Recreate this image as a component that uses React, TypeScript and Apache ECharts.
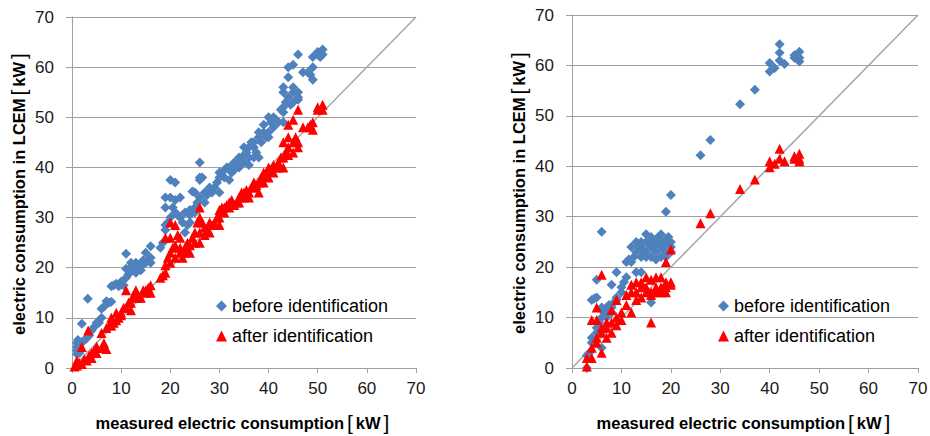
import React, { useEffect, useRef } from "react";
import * as echarts from "echarts";

const axisTicks = [0, 10, 20, 30, 40, 50, 60, 70];
const seriesNames = ["before identification", "after identification"];
const xTitle = "measured electric consumption{br|[}kW{br|]}";
const yTitle = "electric consumption in LCEM{br|[}kW{br|]}";
const diagonal = [[0, 0], [70, 70]];

const leftBefore = [
  [1, 2.8], [1, 3.5], [1, 4.2], [1, 5], [1.2, 5.6], [1.5, 4], [1.5, 3], [2, 5.2], [2, 8.8], [2.5, 5.5], [3, 6], [3.2, 13.8],
  [3.5, 6.5], [4, 7.5], [4.5, 8.2], [5, 9], [5.5, 9], [6, 10], [6, 11.8], [6.5, 12.2], [7, 13.3], [7.5, 13], [8, 13.2],
  [8, 16.3], [8.5, 16.5], [9, 16.8], [9.5, 16.3], [10, 16.6], [10, 17.2], [10.5, 16.5], [11, 22.8], [11, 18], [11, 19.8],
  [11.5, 18.7], [12, 20], [12, 21], [12.5, 19.5], [13, 19], [13, 21], [13.5, 20.5], [14, 19.5], [14, 20.2], [14.5, 21.5],
  [15, 21], [15, 23], [15.5, 21.5], [16, 24.3], [16, 22], [16, 21], [18, 24], [18.5, 25], [19, 27.5], [19, 28.5], [19, 32],
  [19, 34], [19.5, 29], [20, 30], [20, 34], [20, 37.5], [20.5, 32], [21, 37], [21, 33.5], [21, 31], [21.5, 30.5], [22, 34],
  [22, 30], [22.5, 29], [23, 27], [23, 31], [23.5, 28.5], [24, 29], [24, 30.5], [24, 31.5], [24.5, 35.2], [25, 31], [25, 35],
  [25, 32], [25.5, 33], [26, 37.5], [26, 41], [26, 38], [26, 34], [26.5, 38], [27, 35], [27, 33], [27.5, 34.5], [28, 35.5],
  [28, 36], [28.5, 35], [29, 36], [29.5, 37], [30, 35], [30, 38], [30, 39], [30.5, 38.5], [31, 38], [31, 39.5], [31.5, 40],
  [32, 40], [32, 37.5], [32.5, 39], [33, 41], [33, 39.5], [33.5, 40.5], [34, 40], [34, 42], [34.5, 41], [35, 42.5], [35, 41],
  [35, 44], [35.5, 43], [36, 44], [36, 42], [36, 40.5], [36.5, 45], [37, 44], [37, 45], [37, 42], [37.5, 43], [38, 42],
  [38, 46], [38, 47], [38.5, 45], [39, 47], [39, 48.5], [39.5, 46], [40, 50], [40, 47], [40, 46], [40.5, 49], [41, 48],
  [41, 50], [41.5, 49.5], [42, 49], [42.5, 51.5], [43, 52], [43, 51], [43, 49], [43, 56], [43, 55], [43.5, 53], [44, 60],
  [44, 58], [44, 54], [44.5, 52.5], [45, 60.5], [45, 55], [45, 53], [45, 56], [46, 62.5], [46, 55], [46, 54], [46, 53.5],
  [47, 59], [48, 59], [48.5, 58.5], [49, 60], [49, 57.5], [49, 62], [50, 63], [50, 62.5], [51, 63.5], [51, 62.5], [50.5, 62]
];

const leftAfter = [
  [0.5, 0.3], [1, 0.5], [1, 1.5], [1.5, 1], [2, 0.8], [2, 4.2], [2.5, 1.8], [3, 1.5], [3.3, 7.5], [3.5, 2.5], [4, 2], [4, 3],
  [4.5, 3.5], [5, 4.3], [5, 3], [6, 7], [6, 4], [6.5, 5], [7, 3.8], [7, 8], [7.5, 8.5], [8, 8.5], [8, 10], [8.5, 9], [9, 9.5],
  [9, 11], [9.5, 10], [10, 10.5], [10, 11], [10.5, 12], [11, 12], [11, 15.5], [11.5, 13], [12, 13], [12, 11.5], [12.5, 14.5],
  [13, 14], [13, 15.5], [13.5, 14], [14, 14], [14.5, 15.5], [15, 15.5], [15, 15], [15.5, 16], [16, 16.5], [16, 15], [18, 18],
  [18.5, 18.5], [19, 19], [19, 20.5], [19, 26], [19.5, 22], [20, 21], [20, 23], [20, 26], [20, 29], [20.5, 24], [21, 22],
  [21, 24.5], [21, 28.5], [21.5, 26.5], [22, 26], [22, 24], [22, 23], [22.5, 22], [23, 23], [23, 24], [23.5, 25], [24, 24.5],
  [24, 23], [24.5, 26], [25, 25], [25, 27], [25.5, 29], [26, 30], [26, 32], [26, 27], [26, 25], [26.5, 29], [27, 28],
  [27, 26.5], [27.5, 27.5], [28, 29], [28, 27], [28.5, 28.5], [29, 29], [29.5, 30], [30, 31.5], [30, 28.5], [30, 30],
  [30.5, 32], [31, 31], [31, 32], [31.5, 32.5], [32, 33], [32, 32], [32.5, 33.5], [33, 32.5], [33.5, 33], [34, 34], [34, 33],
  [34.5, 35], [35, 34], [35, 35], [35.5, 35.5], [36, 35], [36, 34], [36.5, 36], [37, 36], [37, 37], [37.5, 36.5], [38, 35],
  [38, 37], [38.5, 38], [39, 39], [39, 37], [39.5, 38.5], [40, 38], [40, 40], [40.5, 39.5], [41, 40.5], [41, 39], [41.5, 40],
  [42, 41], [42, 40], [42.5, 42], [43, 42], [43, 40], [43, 45], [43.5, 43], [44, 46], [44, 44], [44, 48.5], [44, 42.5],
  [45, 49.5], [45, 45], [45, 43], [45.5, 46], [46, 51.5], [46, 45], [46, 44], [47, 48], [48, 48], [48.5, 48.5], [49, 49],
  [49, 47.5], [50, 51.5], [50, 52], [51, 52.5], [51, 51.5]
];

const rightBefore = [
  [3, 0], [3, 2.5], [3.5, 3], [4, 5], [4, 6], [4, 13.5], [4.5, 13.8], [5, 14], [5, 17.5], [5, 8], [5, 7], [5.5, 9], [6, 27],
  [6, 10], [6, 12], [6, 4], [6.5, 11], [7, 12], [7, 10], [7, 11], [7.5, 12.5], [8, 16.5], [8, 12], [8, 11], [8.5, 13], [9, 19],
  [9, 14], [9, 13.5], [10, 15], [10, 16], [10.5, 17], [11, 18], [11, 21], [11.5, 21.5], [12, 24], [12, 21], [12.5, 22],
  [13, 25], [13, 19], [13, 23], [13.5, 24], [14, 22], [14, 24], [14, 19], [14, 25], [14.5, 23], [15, 26.5], [15, 23], [15, 22],
  [15, 25], [15.5, 24.5], [16, 26], [16, 24], [16, 22], [16, 13], [16, 25], [16.5, 23.5], [17, 25.5], [17, 23], [17, 21.5],
  [17, 24.5], [17.5, 26], [18, 26.5], [18, 24], [18, 22], [18, 25], [18.5, 23.5], [19, 31], [19, 25.5], [19, 23], [19, 22],
  [19, 24.5], [19.5, 26], [20, 34.3], [20, 25], [20, 24], [20, 23], [26, 42.2], [28, 45.2], [34, 52.3], [37, 55.2],
  [40, 60.5], [40, 58.8], [41, 59.5], [42, 64.2], [42, 62.5], [42, 61], [43, 60.3], [45, 62], [45, 61.5], [46, 62.7],
  [46, 61.5], [46, 60.8]
];

const rightAfter = [
  [3, 0.3], [3, 2], [4, 2], [4, 4], [4, 9.5], [5, 9.5], [5, 12], [5, 5], [5, 6], [6, 18.5], [6, 3], [6, 7], [6, 8], [7, 6],
  [7, 8], [7, 9], [8, 11.5], [8, 7], [8, 9], [9, 13.5], [9, 8.5], [9, 10], [10, 9.5], [10, 11], [11, 12.5], [11, 14.5],
  [12, 11], [12, 15], [12, 16.5], [13, 17], [13, 13.5], [13, 15], [14, 14], [14, 16], [14, 17], [15, 18], [15, 15], [15, 16],
  [16, 9], [16, 17.5], [16, 15], [16, 14.5], [17, 18], [17, 16], [17, 15], [18, 18], [18, 16], [18, 15], [19, 21], [19, 17],
  [19, 15], [19, 16], [20, 23.5], [20, 16.5], [20, 17], [26, 28.7], [28, 30.7], [34, 35.5], [37, 37.4], [40, 39.8],
  [40, 41], [41, 40.5], [42, 43.5], [42, 41.5], [43, 41], [45, 42], [45, 41.5], [46, 42.5], [46, 41.5], [46, 41]
];

const BLUE = "#4f81bd";
const RED = "#ff0000";
const AXIS_GREY = "#a0a0a0";
const FONT = "'Liberation Sans', Arial, sans-serif";

const titleStyle = {
  fontFamily: FONT,
  fontWeight: "bold",
  fontSize: 16.5,
  color: "#000",
  rich: {
    br: { fontFamily: FONT, fontWeight: "normal", fontSize: 21, color: "#000", padding: [0, 3, 0, 3] },
  },
};

function makeX(gridIndex: number) {
  return {
    type: "value",
    gridIndex,
    min: axisTicks[0],
    max: axisTicks[axisTicks.length - 1],
    interval: 10,
    name: xTitle,
    nameLocation: "middle",
    nameGap: 44,
    nameTextStyle: titleStyle,
    axisLine: { show: true, lineStyle: { color: AXIS_GREY, width: 1 } },
    axisTick: { show: true, length: 5, lineStyle: { color: AXIS_GREY } },
    axisLabel: { fontFamily: FONT, fontSize: 17, color: "#1a1a1a", margin: 12 },
    splitLine: { show: false },
  };
}

function makeY(gridIndex: number) {
  return {
    type: "value",
    gridIndex,
    min: axisTicks[0],
    max: axisTicks[axisTicks.length - 1],
    interval: 10,
    name: yTitle,
    nameLocation: "middle",
    nameGap: 43,
    nameRotate: 90,
    nameTextStyle: titleStyle,
    axisLine: { show: true, lineStyle: { color: AXIS_GREY, width: 1 } },
    axisTick: { show: true, length: 6, lineStyle: { color: AXIS_GREY } },
    axisLabel: { fontFamily: FONT, fontSize: 17, color: "#1a1a1a", margin: 18 },
    splitLine: { show: true, lineStyle: { color: AXIS_GREY, width: 1 } },
  };
}

function panelSeries(idx: number, before: number[][], after: number[][]) {
  return [
    {
      type: "line",
      xAxisIndex: idx,
      yAxisIndex: idx,
      data: diagonal,
      symbol: "none",
      silent: true,
      lineStyle: { color: "#a6a6a6", width: 1.5 },
      z: 1,
    },
    {
      name: seriesNames[0],
      type: "scatter",
      xAxisIndex: idx,
      yAxisIndex: idx,
      data: before,
      symbol: "diamond",
      symbolSize: 10,
      itemStyle: { color: BLUE, opacity: 1 },
      z: 2,
    },
    {
      name: seriesNames[1],
      type: "scatter",
      xAxisIndex: idx,
      yAxisIndex: idx,
      data: after,
      symbol: "triangle",
      symbolSize: 10,
      itemStyle: { color: RED, opacity: 1 },
      z: 3,
    },
  ];
}

function makeLegend(left: number) {
  return {
    left,
    top: 292,
    orient: "vertical",
    itemWidth: 11,
    itemHeight: 11,
    itemGap: 12,
    selectedMode: false,
    data: seriesNames,
    textStyle: { fontFamily: FONT, fontSize: 18, color: "#000" },
  };
}

export default function App() {
  const ref = useRef<HTMLDivElement>(null);
  useEffect(() => {
    if (!ref.current) return;
    const chart = echarts.init(ref.current, null, { renderer: "svg" });
    chart.setOption({
      animation: false,
      backgroundColor: "#ffffff",
      grid: [
        { left: 72, top: 17, width: 344, height: 351, containLabel: false, outerBoundsMode: "none" },
        { left: 572, top: 15, width: 346, height: 353, containLabel: false, outerBoundsMode: "none" },
      ],
      xAxis: [makeX(0), makeX(1)],
      yAxis: [makeY(0), makeY(1)],
      legend: [makeLegend(211), makeLegend(713)],
      series: [...panelSeries(0, leftBefore, leftAfter), ...panelSeries(1, rightBefore, rightAfter)],
    });
    return () => chart.dispose();
  }, []);
  return <div ref={ref} style={{ width: 930, height: 436, position: "absolute", left: 0, top: 0 }} />;
}
